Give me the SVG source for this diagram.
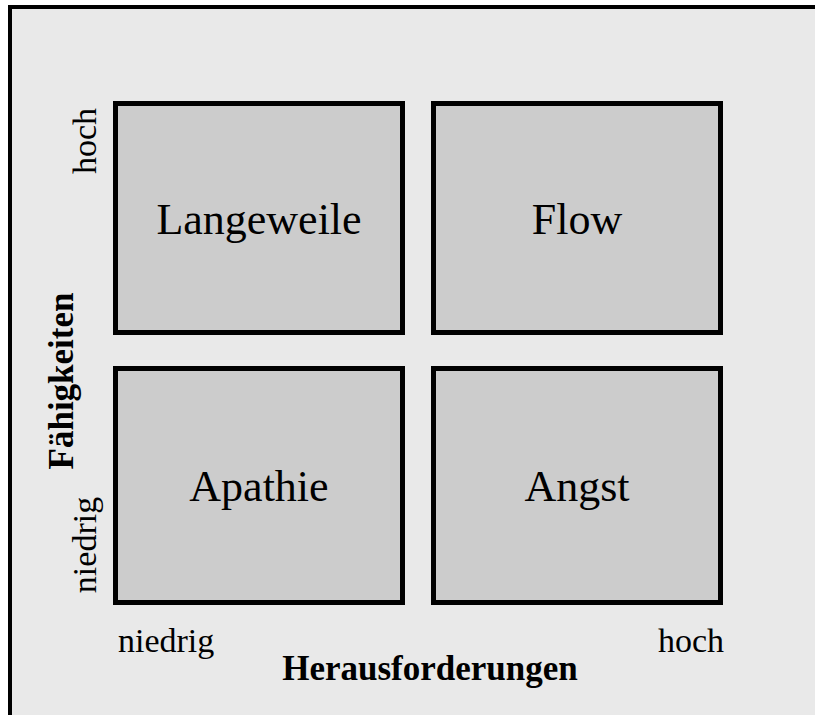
<svg xmlns="http://www.w3.org/2000/svg" width="815" height="715" viewBox="0 0 815 715">
  <style>
    .frame { fill: #e9e9e9; stroke: #000; stroke-width: 4; }
    .cell { fill: #cccccc; stroke: #000; stroke-width: 5; }
    .cell-label { font-family: "Liberation Serif", "Times New Roman", serif; font-size: 44px; fill: #000; text-anchor: middle; }
    .tick { font-family: "Liberation Serif", "Times New Roman", serif; font-size: 34px; fill: #000; }
    .axis { font-family: "Liberation Serif", "Times New Roman", serif; font-size: 35px; font-weight: bold; fill: #000; text-anchor: middle; }
  </style>

  <!-- outer panel, continues past the right and bottom edges -->
  <rect class="frame" x="10" y="7" width="830" height="730"/>

  <g id="langeweile">
    <rect class="cell" x="115.5" y="103.5" width="287" height="229"/>
    <text class="cell-label" x="259" y="234">Langeweile</text>
  </g>
  <g id="flow">
    <rect class="cell" x="433.5" y="103.5" width="287" height="229"/>
    <text class="cell-label" x="577" y="234">Flow</text>
  </g>
  <g id="apathie">
    <rect class="cell" x="115.5" y="368.5" width="287" height="234"/>
    <text class="cell-label" x="259" y="501">Apathie</text>
  </g>
  <g id="angst">
    <rect class="cell" x="433.5" y="368.5" width="287" height="234"/>
    <text class="cell-label" x="577" y="501">Angst</text>
  </g>

  <g id="connectors"/>

  <!-- horizontal axis -->
  <g id="x-axis">
    <text class="tick" x="118" y="652">niedrig</text>
    <text class="tick" x="724" y="652" text-anchor="end">hoch</text>
    <text class="axis" x="430" y="680">Herausforderungen</text>
  </g>

  <!-- vertical axis -->
  <g id="y-axis">
    <text class="tick" transform="translate(96,141) rotate(-90)" text-anchor="middle">hoch</text>
    <text class="tick" transform="translate(96,545) rotate(-90)" text-anchor="middle">niedrig</text>
    <text class="axis" transform="translate(73,381) rotate(-90)">Fähigkeiten</text>
  </g>
</svg>
